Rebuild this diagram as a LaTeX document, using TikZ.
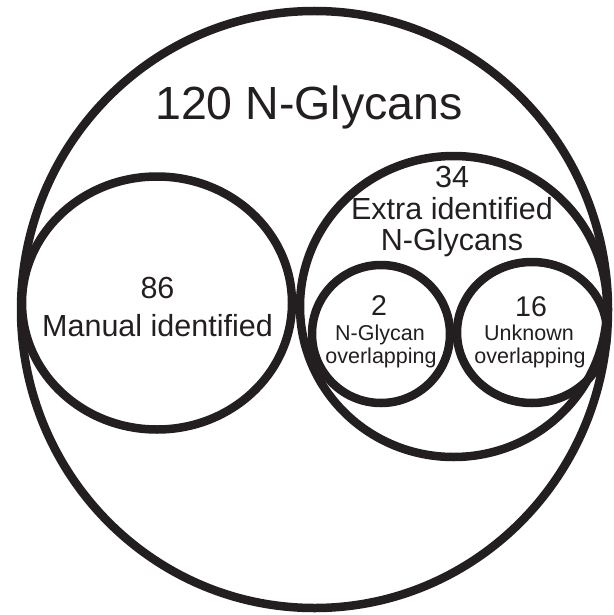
\documentclass[tikz,border=0pt]{standalone}
\usepackage{fontspec}
\setmainfont{Liberation Sans}
\usepackage{tikz}
\usetikzlibrary{shapes.geometric}
\definecolor{ink}{RGB}{35,31,32}
\tikzset{
  ring/.style={draw=ink, ellipse, line width=8.5pt, inner sep=0pt},
  bigtxt/.style={text=ink, anchor=base, inner sep=0pt, font=\fontsize{46.5}{54}\selectfont},
  midtxt/.style={text=ink, anchor=base, inner sep=0pt, font=\fontsize{30.5}{35}\selectfont},
  numtxt/.style={text=ink, anchor=base, inner sep=0pt, font=\fontsize{28.5}{34}\selectfont},
  smalltxt/.style={text=ink, anchor=base, inner sep=0pt, font=\fontsize{21.5}{26}\selectfont}
}
\begin{document}
\begin{tikzpicture}[x=1pt, y=-1pt]
    \useasboundingbox (0,0) rectangle (613,615);
    \node[ring, minimum width=587pt, minimum height=597pt] (all) at (314.5,309.5) {};
    \node[ring, minimum width=270pt, minimum height=253pt] (manual) at (157,303) {};
    \node[ring, minimum width=307pt, minimum height=301pt] (extra) at (453.5,306.5) {};
    \node[ring, minimum width=138pt, minimum height=138pt] (glyc) at (381,334) {};
    \node[ring, minimum width=150pt, minimum height=141pt] (unkn) at (532,332.5) {};
    \node[bigtxt] (t120) at (309,120) {120 N-Glycans};
    \node[midtxt] (t86) at (157.5,298) {86};
    \node[midtxt] (tman) at (157.5,336) {Manual identified};
    \node[midtxt] (t34) at (452,187) {34};
    \node[midtxt] (textra) at (452,219) {Extra identified};
    \node[midtxt] (tngly) at (452,250) {N-Glycans};
    \node[numtxt] (t2) at (379,315) {2};
    \node[smalltxt] (tglyc) at (380,340) {N-Glycan};
    \node[smalltxt] (tover1) at (381,363) {overlapping};
    \node[numtxt] (t16) at (531,316) {16};
    \node[smalltxt] (tunkn) at (529,340) {Unknown};
    \node[smalltxt] (tover2) at (530,363) {overlapping};
  \end{tikzpicture}
\end{document}
